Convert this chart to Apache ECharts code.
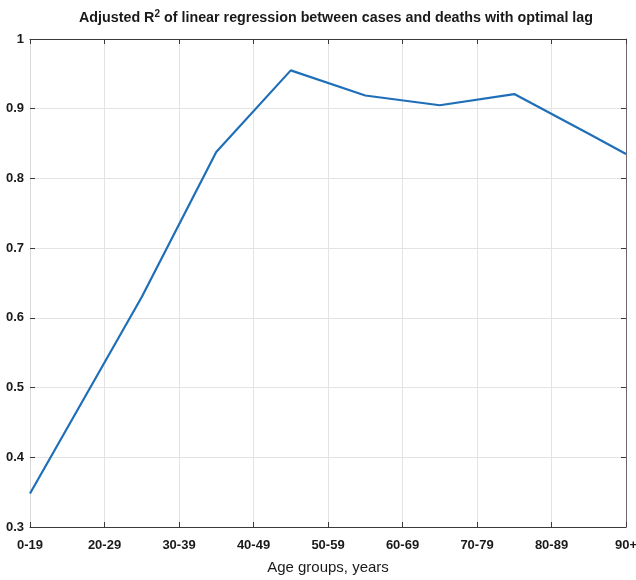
<!DOCTYPE html>
<html>
<head>
<meta charset="utf-8">
<script src="https://cdn.jsdelivr.net/npm/echarts@6/dist/echarts.min.js"></script>
<style>
html,body{margin:0;padding:0;background:#fff;}
#chart{width:636px;height:580px;}
</style>
</head>
<body>
<div id="chart"></div>
<script>
// Tick labels of the x axis (age groups), placed at x = 10, 20, ..., 90
const tickLabels = ['0-19', '20-29', '30-39', '40-49', '50-59', '60-69', '70-79', '80-89', '90+'];
const tickValues = [10, 20, 30, 40, 50, 60, 70, 80, 90];
// Positions of the data points on the x axis (age-group midpoints)
const pointX = [10, 25, 35, 45, 55, 65, 75, 85, 90];
// Adjusted R^2 values
const adjR2 = [0.348, 0.630, 0.838, 0.955, 0.919, 0.905, 0.921, 0.864, 0.835];

const FONT = '"Liberation Sans Narrow", "Liberation Sans", Arial, sans-serif';
const seriesData = pointX.map((x, i) => [x, adjR2[i]]);

function labelFor(v) {
  const idx = tickValues.indexOf(Math.round(v));
  return idx >= 0 ? tickLabels[idx] : '';
}

const chart = echarts.init(document.getElementById('chart'), null, {renderer: 'canvas'});
chart.setOption({
  animation: false,
  backgroundColor: '#fff',
  title: {
    text: 'Adjusted R{sup|2} of linear regression between cases and deaths with optimal lag',
    left: 331,
    textAlign: 'center',
    top: 4,
    textStyle: {
      fontFamily: FONT, fontSize: 14.3, fontWeight: 'bold', color: '#1a1a1a',
      rich: {
        sup: {fontFamily: FONT, fontSize: 10, fontWeight: 'bold', color: '#1a1a1a', padding: [0, 0, 9, 0]}
      }
    }
  },
  grid: {left: 30, right: 10, top: 39, bottom: 53, containLabel: false, outerBoundsMode: 'none'},
  xAxis: [{
    type: 'value', min: 10, max: 90, interval: 10, position: 'bottom',
    name: 'Age groups, years', nameLocation: 'middle', nameGap: 33,
    nameTextStyle: {fontFamily: FONT, fontSize: 15, color: '#1a1a1a'},
    axisLine: {show: true, lineStyle: {color: '#3a3a3a', width: 1}},
    axisTick: {show: true, inside: true, length: 5, lineStyle: {color: '#3a3a3a'}},
    axisLabel: {formatter: labelFor, fontFamily: FONT, fontSize: 13, fontWeight: 'bold', color: '#1a1a1a', margin: 12,
      showMinLabel: true, showMaxLabel: true},
    splitLine: {show: true, lineStyle: {color: '#e3e3e3', width: 1}}
  }, {
    type: 'value', min: 10, max: 90, interval: 10, position: 'top',
    axisLine: {show: true, lineStyle: {color: '#3a3a3a', width: 1}},
    axisTick: {show: true, inside: true, length: 5, lineStyle: {color: '#3a3a3a'}},
    axisLabel: {show: false},
    splitLine: {show: false}
  }],
  yAxis: [{
    type: 'value', min: 0.3, max: 1, interval: 0.1, position: 'left',
    axisLine: {show: true, lineStyle: {color: '#d8d8d8', width: 1}},
    axisTick: {show: true, inside: true, length: 5, lineStyle: {color: '#3a3a3a'}},
    axisLabel: {fontFamily: FONT, fontSize: 13, fontWeight: 'bold', color: '#1a1a1a', margin: 6,
      formatter: v => String(Math.round(v * 10) / 10)},
    splitLine: {show: true, lineStyle: {color: '#e3e3e3', width: 1}}
  }, {
    type: 'value', min: 0.3, max: 1, interval: 0.1, position: 'right',
    axisLine: {show: true, lineStyle: {color: '#6a6a6a', width: 1}},
    axisTick: {show: true, inside: true, length: 5, lineStyle: {color: '#3a3a3a'}},
    axisLabel: {show: false},
    splitLine: {show: false}
  }],
  series: [{
    type: 'line',
    data: seriesData,
    xAxisIndex: 0, yAxisIndex: 0,
    showSymbol: false, symbol: 'none',
    lineStyle: {color: '#1f6fb8', width: 2.2},
    clip: true
  }]
});
</script>
</body>
</html>
